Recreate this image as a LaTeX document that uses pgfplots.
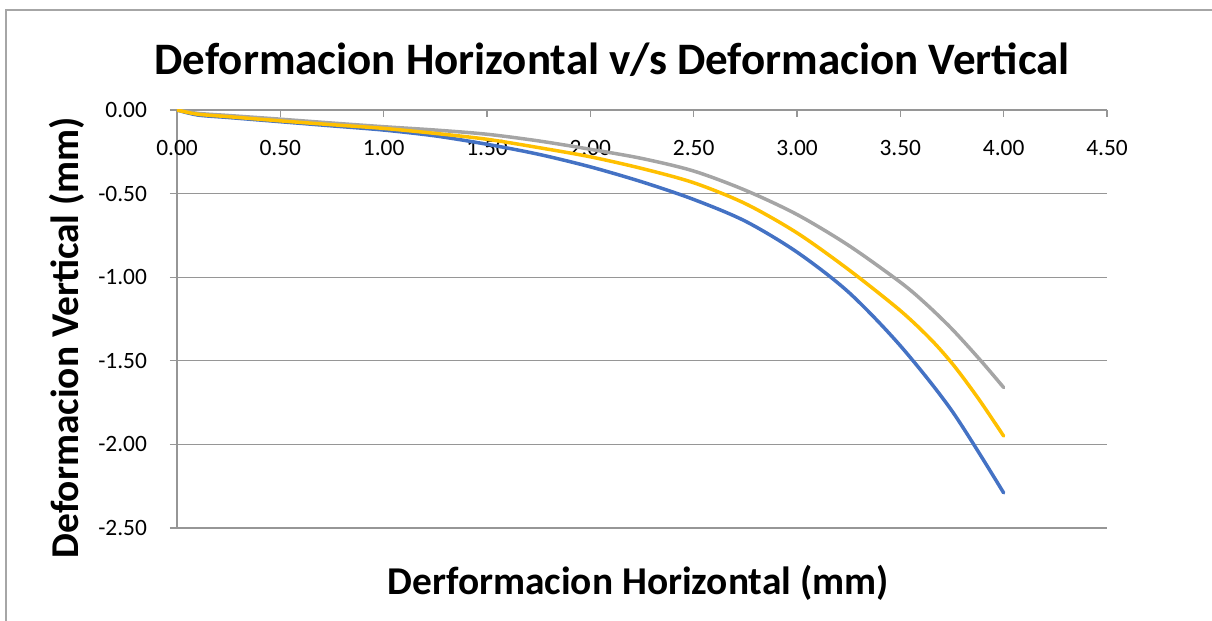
\documentclass[border=0pt]{standalone}
\usepackage{fontspec}
\setmainfont{Carlito}
\usepackage{pgfplots}
\pgfplotsset{compat=1.18}
\definecolor{exblue}{HTML}{4472C4}
\definecolor{exgold}{HTML}{FFC000}
\definecolor{exgray}{HTML}{A5A5A5}
\definecolor{gridc}{HTML}{969696}
\definecolor{framec}{HTML}{A6A6A6}
\begin{document}
\begin{tikzpicture}
\begin{axis}[
  at={(0,0)}, anchor=south west,
  scale only axis,
  width=465pt, height=209pt,
  xmin=0, xmax=4.5, ymin=-2.5, ymax=0,
  enlargelimits=false,
  axis x line=middle,
  axis y line=left,
  axis line style={-, draw=gridc, line width=0.6pt},
  xtick={0,0.5,1,1.5,2,2.5,3,3.5,4,4.5},
  xticklabels={0.00,0.50,1.00,1.50,2.00,2.50,3.00,3.50,4.00,4.50},
  ytick={-2.5,-2,-1.5,-1,-0.5,0},
  yticklabels={-2.50,-2.00,-1.50,-1.00,-0.50,0.00},
  hide obscured x ticks=false,
  hide obscured y ticks=false,
  xtick align=outside, ytick align=outside,
  major tick length=3.5pt,
  tick style={draw=gridc, line width=0.6pt},
  ymajorgrids,
  grid style={draw=gridc, line width=0.6pt},
  xticklabel style={font=\fontsize{11.7}{14}\selectfont, anchor=north, yshift=-8pt},
  yticklabel style={font=\fontsize{11.7}{14}\selectfont, anchor=east, xshift=-8pt},
  every axis title shift=0pt,
  title={Deformacion Horizontal v/s Deformacion Vertical},
  title style={at={(axis description cs:0.468,1.0861)}, anchor=base, font=\fontsize{22.5}{27}\selectfont\bfseries},
  xlabel={Derformacion Horizontal (mm)},
  xlabel style={at={(axis description cs:0.496,-0.158)}, anchor=base, font=\fontsize{19.7}{24}\selectfont\bfseries},
  ylabel={Deformacion Vertical (mm)},
  ylabel style={at={(axis description cs:-0.1054,0.4557)}, anchor=base, font=\fontsize{19.7}{24}\selectfont\bfseries},
  every axis plot/.append style={line width=1.75pt, line cap=round, line join=round},
]
\addplot[exblue, smooth, tension=0.5] coordinates {
(0,0) (0.1,-0.03) (0.25,-0.045) (0.5,-0.07) (0.75,-0.095) (1.0,-0.12) (1.25,-0.155)
(1.5,-0.205) (1.75,-0.265) (2.0,-0.34) (2.25,-0.43) (2.5,-0.535) (2.75,-0.665)
(3.0,-0.85) (3.25,-1.09) (3.5,-1.41) (3.75,-1.80) (4.0,-2.29)};
\addplot[exgray, smooth, tension=0.5] coordinates {
(0,0) (0.1,-0.02) (0.25,-0.033) (0.5,-0.055) (0.75,-0.078) (1.0,-0.10) (1.25,-0.12)
(1.5,-0.145) (1.75,-0.185) (2.0,-0.235) (2.25,-0.29) (2.5,-0.365) (2.75,-0.48)
(3.0,-0.625) (3.25,-0.81) (3.5,-1.03) (3.62,-1.155) (3.75,-1.31) (3.89,-1.50) (4.0,-1.66)};
\addplot[exgold, smooth, tension=0.5] coordinates {
(0,0) (0.1,-0.025) (0.25,-0.04) (0.5,-0.065) (0.75,-0.088) (1.0,-0.11) (1.25,-0.14)
(1.5,-0.175) (1.75,-0.225) (2.0,-0.28) (2.25,-0.35) (2.5,-0.435) (2.75,-0.56)
(3.0,-0.735) (3.25,-0.955) (3.5,-1.20) (3.65,-1.375) (3.76,-1.53) (3.88,-1.73) (4.0,-1.95)};
\end{axis}
\draw[framec, line width=0.75pt] (-85.5pt,-60pt) -- (-85.5pt,259pt) -- (530pt,259pt);
\pgfresetboundingbox
\path[use as bounding box] (-88.5pt,-46.5pt) rectangle (517.5pt,264pt);
\end{tikzpicture}
\end{document}
